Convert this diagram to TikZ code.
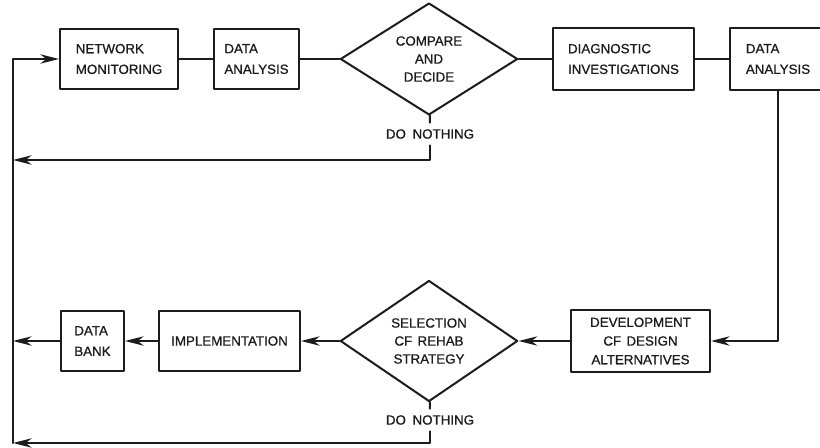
\documentclass[tikz,border=0pt]{standalone}
\usepackage{xcolor}
\usepackage{fontspec}
\usepackage{tikz}
\usetikzlibrary{shapes.geometric, arrows.meta}
\newfontfamily\flowfont[FakeBold=0.9]{Liberation Sans}
\definecolor{flowInk}{HTML}{1C1C1C}

\begin{document}
\begin{tikzpicture}[x=0.75pt, y=-0.75pt, line cap=round, line join=round,
  box/.style={draw=flowInk, line width=1.5pt, minimum height=45.5pt, inner sep=0pt,
    align=left, text=flowInk, font=\flowfont\fontsize{10}{15.5}\selectfont},
  decide/.style={draw=flowInk, line width=1.5pt, shape=diamond, minimum width=133pt,
    minimum height=78pt, inner sep=0pt, align=center, text=flowInk,
    font=\flowfont\fontsize{10}{13.5}\selectfont},
  skiplbl/.style={minimum height=16.5pt, inner sep=0pt, text=flowInk,
    font=\flowfont\fontsize{10}{12}\selectfont},
  flow/.style={draw=flowInk, line width=1.5pt},
  arr/.style={flow, -{Stealth[length=14pt, width=7pt, inset=4.5pt]}}]
  \useasboundingbox (0,0) rectangle (820,448);

  % top row
  \node[box, minimum width=88.5pt] (mon) at (119,59) {NETWORK\\MONITORING};
  \node[box, minimum width=63.75pt] (anaA) at (256.5,59) {DATA\\ANALYSIS};
  \node[decide] (cmp) at (429,59) {COMPARE\\AND\\DECIDE};
  \node[box, minimum width=105.75pt, minimum height=46.5pt] (diag) at (623.5,59) {DIAGNOSTIC\\INVESTIGATIONS};
  \node[box, minimum width=72pt, minimum height=46.5pt] (anaB) at (778,59) {DATA\\ANALYSIS};
  \node[skiplbl] (skipA) at (430,134) {DO\hspace{0.5em}NOTHING};

  % bottom row
  \node[box, minimum width=104.25pt, minimum height=46.5pt, align=center,
    font=\flowfont\fontsize{10}{14}\selectfont] (dev) at (640.5,341) {DEVELOPMENT\\CF\hspace{0.4em}DESIGN\\ALTERNATIVES};
  \node[decide] (sel) at (429,341) {SELECTION\\CF\hspace{0.4em}REHAB\\STRATEGY};
  \node[box, minimum width=105.75pt] (impl) at (229.5,341) {IMPLEMENTATION};
  \node[box, minimum width=47.25pt] (bank) at (92.5,341) {DATA\\BANK};
  \node[skiplbl] (skipB) at (430,420) {DO\hspace{0.5em}NOTHING};

  % return line
  \coordinate (backA) at (13,160);
  \coordinate (backB) at (13,443);
  \coordinate (backC) at (13,341);

  \draw[flow] (mon) -- (anaA);
  \draw[flow] (anaA) -- (cmp);
  \draw[flow] (cmp) -- (diag);
  \draw[flow] (diag) -- (anaB);
  \draw[flow] (cmp) -- (skipA);
  \draw[arr] (skipA) |- (backA);
  \draw[arr] (anaB) |- (dev);
  \draw[arr] (dev) -- (sel);
  \draw[arr] (sel) -- (impl);
  \draw[arr] (impl) -- (bank);
  \draw[arr] (bank) -- (backC);
  \draw[flow] (sel) -- (skipB);
  \draw[arr] (skipB) |- (backB);
  \draw[arr] (backB) |- (mon);
\end{tikzpicture}
\end{document}
